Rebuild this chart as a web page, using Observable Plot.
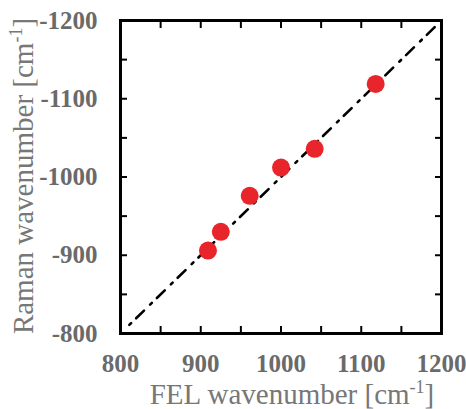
<!DOCTYPE html>
<html><head><meta charset="utf-8">
<script src="https://cdn.jsdelivr.net/npm/d3@7"></script>
<script src="https://cdn.jsdelivr.net/npm/@observablehq/plot@0.6"></script>
<style>body{margin:0;background:#fff}</style>
</head><body><div id="chart"></div>
<script>
// Data
const felWavenumber = [909, 925, 961, 1000, 1042, 1118];
const ramanWavenumber = [-906, -930, -976, -1012, -1036, -1119];
// Guide line (Raman = -FEL)
const guideFel = [811, 1200];
const guideRaman = [-811, -1200];
// Ticks
const xTickLabels = [800, 900, 1000, 1100, 1200];
const yTickLabels = [-800, -900, -1000, -1100, -1200];
const xTickMarks = [800, 850, 900, 950, 1000, 1050, 1100, 1150, 1200];
const yTickMarks = [-800, -850, -900, -950, -1000, -1050, -1100, -1150, -1200];
const xTitle = "FEL wavenumber [cm";
const yTitle = "Raman wavenumber [cm";
const titleSup = "-1";

const points = felWavenumber.map((x, i) => ({x, y: ramanWavenumber[i]}));
const guide = guideFel.map((x, i) => ({x, y: guideRaman[i]}));

const tickFont = {fontFamily: "'Liberation Serif', serif", fontSize: 25, fontWeight: "bold", fill: "#6a6a6a"};

const chart = Plot.plot({
  width: 466,
  height: 409,
  marginLeft: 120,
  marginRight: 25,
  marginTop: 20,
  marginBottom: 76,
  style: {fontFamily: "'Liberation Serif', serif", background: "#fff"},
  x: {domain: [800, 1200], axis: null},
  y: {domain: [-800, -1200], axis: null},
  marks: [
    Plot.line(guide, {x: "x", y: "y", stroke: "black", strokeWidth: 2.6, strokeDasharray: "2.5,7,11,8.5"}),
    Plot.dot(points, {x: "x", y: "y", r: 9, fill: "#e8252a", stroke: "none"}),
    Plot.text(xTickLabels, {x: d => d, frameAnchor: "bottom", dy: 30, textAnchor: "middle", lineAnchor: "middle", text: d => String(d), ...tickFont}),
    Plot.text(yTickLabels, {y: d => d, frameAnchor: "left", dx: -23, textAnchor: "end", lineAnchor: "middle", text: d => String(d), ...tickFont}),
    Plot.axisX(xTickMarks, {anchor: "bottom", tickSize: -7, text: null, label: null, stroke: "black", strokeWidth: 2}),
    Plot.axisX(xTickMarks, {anchor: "top", tickSize: -7, text: null, label: null, stroke: "black", strokeWidth: 2}),
    Plot.axisY(yTickMarks, {anchor: "left", tickSize: -7, text: null, label: null, stroke: "black", strokeWidth: 2}),
    Plot.axisY(yTickMarks, {anchor: "right", tickSize: -7, text: null, label: null, stroke: "black", strokeWidth: 2}),
    Plot.frame({stroke: "black", strokeWidth: 3})
  ]
});

const svg = d3.select(chart);
function addTitle(main, sup, attrs) {
  const t = svg.append("text")
    .attr("font-family", "'Liberation Serif', serif")
    .attr("font-size", 29)
    .attr("font-weight", "normal")
    .attr("fill", "#777")
    .attr("text-anchor", "middle");
  for (const k in attrs) t.attr(k, attrs[k]);
  t.append("tspan").text(main);
  t.append("tspan").attr("font-size", 18).attr("dy", -11).text(sup);
  t.append("tspan").attr("dy", 11).text("]");
}
addTitle(xTitle, titleSup, {x: 292, y: 404});
addTitle(yTitle, titleSup, {transform: "translate(33,176) rotate(-90)"});

document.getElementById("chart").appendChild(chart);
</script>
</body></html>
